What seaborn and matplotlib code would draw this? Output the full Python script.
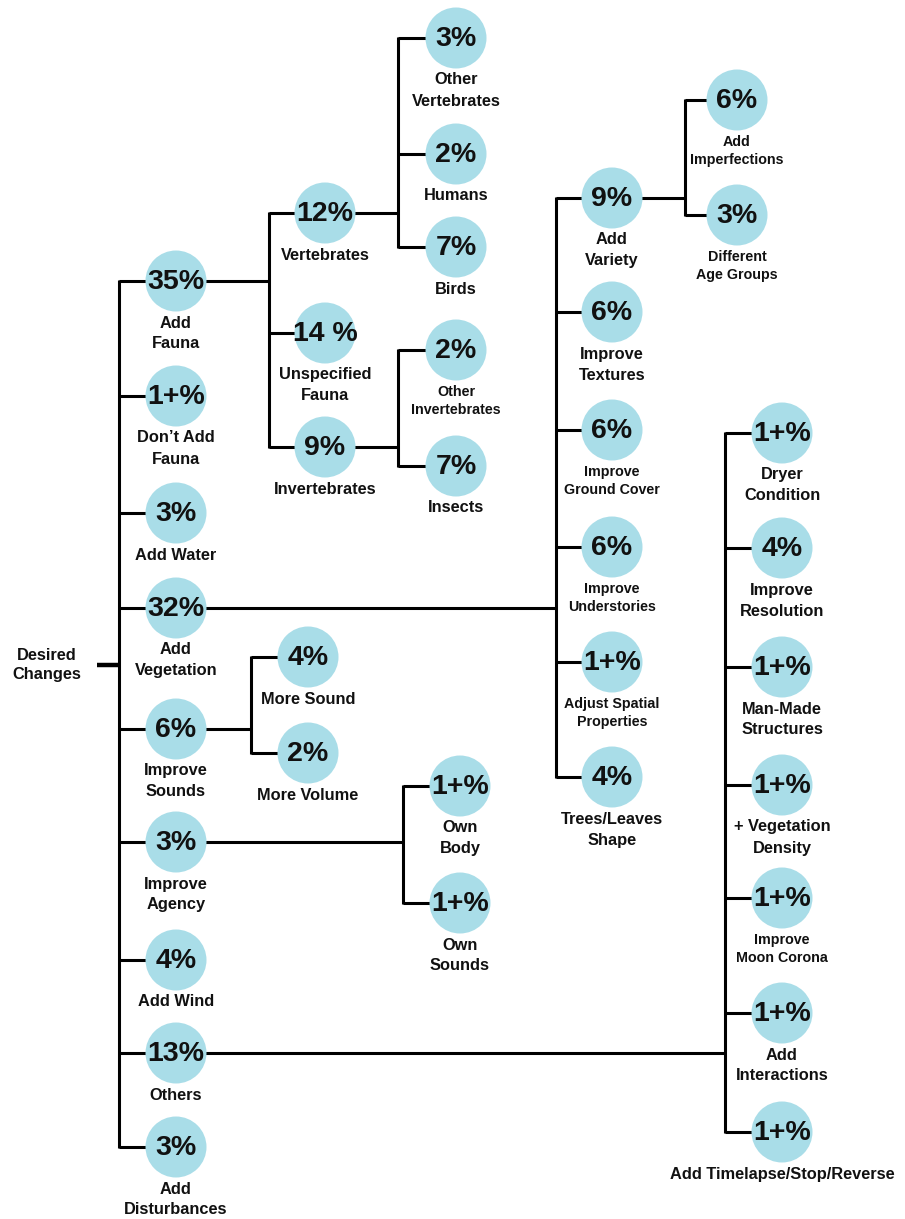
import matplotlib
matplotlib.use("Agg")
import matplotlib.pyplot as plt
import seaborn as sns
import pandas as pd

sns.set_theme(style="white")
plt.rcParams['font.family'] = ['Liberation Sans', 'DejaVu Sans']

# ---------------- data ----------------
root_label = "Desired\nChanges"
labels = [
    "Add\nFauna", "Don\u2019t Add\nFauna", "Add Water", "Add\nVegetation", "Improve\nSounds",
    "Improve\nAgency", "Add Wind", "Others", "Add\nDisturbances",
    "Vertebrates", "Unspecified\nFauna", "Invertebrates",
    "Other\nVertebrates", "Humans", "Birds",
    "Other\nInvertebrates", "Insects",
    "Add\nVariety", "Improve\nTextures", "Improve\nGround Cover", "Improve\nUnderstories",
    "Adjust Spatial\nProperties", "Trees/Leaves\nShape",
    "Add\nImperfections", "Different\nAge Groups",
    "More Sound", "More Volume",
    "Own\nBody", "Own\nSounds",
    "Dryer\nCondition", "Improve\nResolution", "Man-Made\nStructures", "+ Vegetation\nDensity",
    "Improve\nMoon Corona", "Add\nInteractions", "Add Timelapse/Stop/Reverse",
]
pct = [
    "35%", "1+%", "3%", "32%", "6%", "3%", "4%", "13%", "3%",
    "12%", "14 %", "9%",
    "3%", "2%", "7%",
    "2%", "7%",
    "9%", "6%", "6%", "6%", "1+%", "4%",
    "6%", "3%",
    "4%", "2%",
    "1+%", "1+%",
    "1+%", "4%", "1+%", "1+%", "1+%", "1+%", "1+%",
]
# parent index (-1 = root)
parent = [
    -1, -1, -1, -1, -1, -1, -1, -1, -1,
    0, 0, 0,
    9, 9, 9,
    11, 11,
    3, 3, 3, 3, 3, 3,
    17, 17,
    4, 4,
    5, 5,
    7, 7, 7, 7, 7, 7, 7,
]
small_label = {"Other\nInvertebrates", "Improve\nGround Cover", "Improve\nUnderstories",
               "Adjust Spatial\nProperties", "Add\nImperfections", "Different\nAge Groups",
               "Improve\nMoon Corona"}

# ---------------- layout (pixel coordinates) ----------------
node_x = [176] * 9 + [325] * 3 + [456] * 3 + [456] * 2 + [612] * 6 + [737] * 2 + [308] * 2 + [460] * 2 + [782] * 7
node_y = [
    281, 396, 513, 608, 729, 842, 960, 1053, 1147,
    213, 333, 447,
    38, 154, 247,
    350, 466,
    198, 312, 430, 547, 662, 777,
    100, 215,
    657, 753,
    786, 903,
    433, 548, 667, 785, 898, 1013, 1132,
]
branch_x = {-1: 119, 0: 269, 9: 398, 11: 398, 3: 556, 17: 685, 4: 251, 5: 403, 7: 725}
root_xy = (47, 665)
stub_x0 = 97

W, H, DPI = 905, 1219, 100
R = 30.5
CIRCLE = "#a9dde8"
LW = 2.2

fig = plt.figure(figsize=(W / DPI, H / DPI), dpi=DPI)
ax = fig.add_axes([0, 0, 1, 1])
ax.set_xlim(0, W)
ax.set_ylim(H, 0)
ax.axis("off")

# connectors
kw = dict(color="black", lw=LW, solid_capstyle="butt", zorder=1)
for p, bx in branch_x.items():
    kids = [i for i, q in enumerate(parent) if q == p]
    ys = [node_y[i] for i in kids]
    if p == -1:
        px, py = stub_x0, root_xy[1]
        ax.plot([px, bx], [py, py], color="black", lw=3.2, solid_capstyle="butt", zorder=1)
    else:
        px, py = node_x[p], node_y[p]
        ax.plot([px, bx], [py, py], **kw)
    ax.plot([bx, bx], [min(ys + [py]) - 1, max(ys + [py]) + 1], **kw)
    for i in kids:
        ax.plot([bx, node_x[i]], [node_y[i], node_y[i]], **kw)

# circles
df = pd.DataFrame({"x": node_x, "y": node_y, "label": labels, "pct": pct})
size_pt = (2 * R * 72 / DPI) ** 2
sns.scatterplot(data=df, x="x", y="y", s=size_pt, color=CIRCLE, edgecolor="none",
                linewidth=0, legend=False, ax=ax, zorder=3)
ax.set_xlim(0, W)
ax.set_ylim(H, 0)
ax.axis("off")

for i, row in df.iterrows():
    ax.text(row.x, row.y + 1, row.pct, ha="center", va="center", fontsize=20.5,
            fontweight="bold", color="#111111", zorder=4)
    lines = row.label.split("\n")
    small = row.label in small_label
    fs = 10.3 if small else 11.8
    step = 18 if small else 21
    for k, ln in enumerate(lines):
        ax.text(row.x, row.y + 42 + k * step, ln, ha="center", va="center",
                fontsize=fs, fontweight="bold", color="#111111", zorder=4)

for k, ln in enumerate(root_label.split("\n")):
    ax.text(root_xy[0], root_xy[1] - 10 + k * 20, ln, ha="center", va="center",
            fontsize=11.8, fontweight="bold", color="#111111")

fig.savefig("out.png", dpi=DPI)
